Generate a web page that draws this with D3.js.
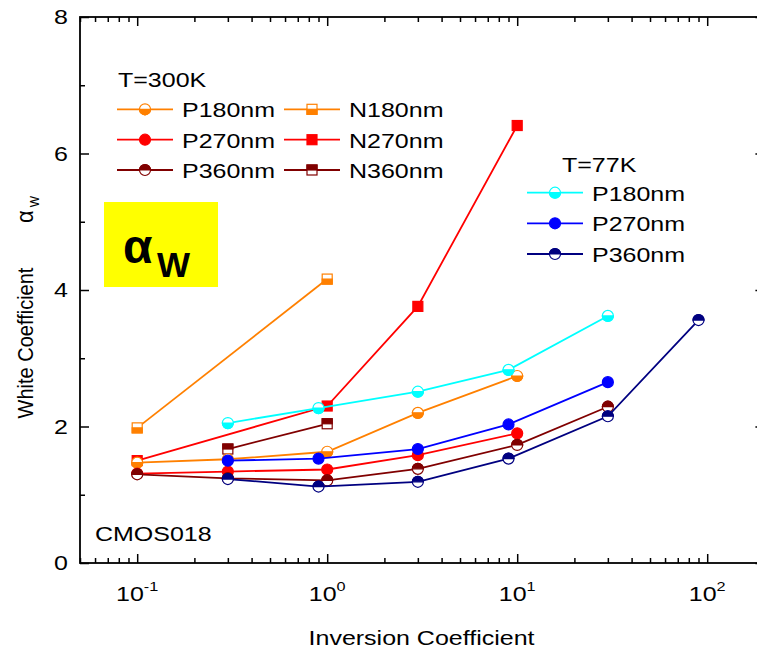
<!DOCTYPE html>
<html>
<head>
<meta charset="utf-8">
<title>White Coefficient vs Inversion Coefficient</title>
<script src="https://cdnjs.cloudflare.com/ajax/libs/d3/7.8.5/d3.min.js"></script>
<style>
  body { margin: 0; background: #fff; }
  svg text { font-family: "Liberation Sans", Arial, sans-serif; fill: #000; }
</style>
</head>
<body>
<svg id="chart" width="757" height="648"></svg>
<script>
// ---- data ----
var ic300P180 = [0.1, 0.3, 1, 3, 10];
var aw300P180 = [1.47, 1.52, 1.63, 2.20, 2.74];
var ic300N180 = [0.1, 1];
var aw300N180 = [1.98, 4.16];
var ic300P270 = [0.1, 0.3, 1, 3, 10];
var aw300P270 = [1.31, 1.34, 1.37, 1.58, 1.90];
var ic300N270 = [0.1, 1, 3, 10];
var aw300N270 = [1.50, 2.30, 3.76, 6.41];
var ic300P360 = [0.1, 0.3, 1, 3, 10, 30];
var aw300P360 = [1.30, 1.24, 1.21, 1.38, 1.73, 2.29];
var ic300N360 = [0.3, 1];
var aw300N360 = [1.67, 2.04];
var ic77P180 = [0.3, 0.9, 3, 9, 30];
var aw77P180 = [2.05, 2.27, 2.51, 2.83, 3.62];
var ic77P270 = [0.3, 0.9, 3, 9, 30];
var aw77P270 = [1.50, 1.53, 1.67, 2.03, 2.65];
var ic77P360 = [0.3, 0.9, 3, 9, 30, 90];
var aw77P360 = [1.23, 1.12, 1.19, 1.53, 2.15, 3.56];

var yTicks = [0, 2, 4, 6, 8];
var yMinor = [1, 3, 5, 7];
var xTickExp = [-1, 0, 1, 2];

// series styling (shape, which half is filled, colour)
var series = [
  {name: "N180nm", ic: ic300N180, aw: aw300N180, color: "#ff8000", shape: "square", fill: "bottom"},
  {name: "N270nm", ic: ic300N270, aw: aw300N270, color: "#ff0000", shape: "square", fill: "full"},
  {name: "N360nm", ic: ic300N360, aw: aw300N360, color: "#800000", shape: "square", fill: "top"},
  {name: "P180nm", ic: ic300P180, aw: aw300P180, color: "#ff8000", shape: "circle", fill: "bottom"},
  {name: "P270nm", ic: ic300P270, aw: aw300P270, color: "#ff0000", shape: "circle", fill: "full"},
  {name: "P360nm", ic: ic300P360, aw: aw300P360, color: "#800000", shape: "circle", fill: "top"},
  {name: "P180nm", ic: ic77P180, aw: aw77P180, color: "#00ffff", shape: "circle", fill: "bottom"},
  {name: "P270nm", ic: ic77P270, aw: aw77P270, color: "#0000ff", shape: "circle", fill: "full"},
  {name: "P360nm", ic: ic77P360, aw: aw77P360, color: "#000080", shape: "circle", fill: "top"}
];

var SX = 1.25; // text in the original is stretched sideways
var svg = d3.select("#chart");
svg.append("rect").attr("width", 757).attr("height", 648).attr("fill", "#fff");

var x = d3.scaleLog().domain([0.05, 200]).range([80, 764.4]);
var y = d3.scaleLinear().domain([0, 8]).range([563, 17]);

// minor log ticks
var minorX = [];
[0.01, 0.1, 1, 10, 100].forEach(function (d) {
  for (var k = 2; k <= 9; k++) {
    var v = d * k;
    if (v >= 0.05 && v <= 200) minorX.push(v);
  }
});
var majorX = xTickExp.map(function (e) { return Math.pow(10, e); });

function tickGroup(axis, tr) {
  var g = svg.append("g").attr("transform", tr).call(axis);
  g.select(".domain").remove();
  g.selectAll("line").attr("stroke", "#000").attr("stroke-width", 1.5);
  return g;
}
tickGroup(d3.axisBottom(x).tickValues(majorX).tickSize(-9).tickSizeOuter(0).tickFormat(""), "translate(0,563)");
tickGroup(d3.axisBottom(x).tickValues(minorX).tickSize(-5).tickSizeOuter(0).tickFormat(""), "translate(0,563)");
tickGroup(d3.axisTop(x).tickValues(majorX).tickSize(-9).tickSizeOuter(0).tickFormat(""), "translate(0,17)");
tickGroup(d3.axisTop(x).tickValues(minorX).tickSize(-5).tickSizeOuter(0).tickFormat(""), "translate(0,17)");
tickGroup(d3.axisLeft(y).tickValues(yTicks).tickSize(-9).tickSizeOuter(0).tickFormat(""), "translate(80,0)");
tickGroup(d3.axisLeft(y).tickValues(yMinor).tickSize(-5).tickSizeOuter(0).tickFormat(""), "translate(80,0)");
tickGroup(d3.axisRight(y).tickValues(yTicks).tickSize(-9).tickSizeOuter(0).tickFormat(""), "translate(764.4,0)");
tickGroup(d3.axisRight(y).tickValues(yMinor).tickSize(-5).tickSizeOuter(0).tickFormat(""), "translate(764.4,0)");

svg.append("rect")
  .attr("x", 80).attr("y", 17).attr("width", 684.4).attr("height", 546)
  .attr("fill", "none").attr("stroke", "#000").attr("stroke-width", 1.8);

function label(x0, y0, str, size, anchor) {
  return svg.append("text")
    .attr("transform", "translate(" + x0 + "," + y0 + ") scale(" + SX + ",1)")
    .attr("font-size", size)
    .attr("text-anchor", anchor || "start")
    .text(str);
}

// tick labels
yTicks.forEach(function (v) { label(68, y(v) + 7, v, 20, "end"); });
xTickExp.forEach(function (e) {
  var t = label(x(Math.pow(10, e)), 601, "", 20, "middle");
  t.append("tspan").text("10");
  t.append("tspan").attr("font-size", 13).attr("dy", -10).text(e);
});

label(421.5, 645, "Inversion Coefficient", 20, "middle");
label(95, 540.5, "CMOS018", 20);

svg.append("text")
  .attr("transform", "translate(32.5,343) scale(1.1,1) rotate(-90)")
  .attr("font-size", 20).attr("text-anchor", "middle")
  .text("White Coefficient");
var aw = svg.append("text")
  .attr("transform", "translate(33,223) scale(1.1,1) rotate(-90)")
  .attr("font-size", 22);
aw.append("tspan").text("\u03b1");
aw.append("tspan").attr("font-size", 12).attr("dx", 3).attr("dy", 5).text("W");

// yellow box
svg.append("rect").attr("x", 104).attr("y", 202).attr("width", 114).attr("height", 85).attr("fill", "#ffff00");
svg.append("text").attr("x", 123).attr("y", 263).attr("font-size", 48).attr("font-weight", "bold").text("\u03b1");
svg.append("text").attr("x", 157).attr("y", 277).attr("font-size", 35).attr("font-weight", "bold").text("W");

// markers
function marker(g, cx, cy, s) {
  var r = 5.5;
  var m = g.append("g").attr("transform", "translate(" + cx + "," + cy + ")");
  if (s.shape === "circle") {
    m.append("circle").attr("r", r)
      .attr("fill", s.fill === "full" ? s.color : "#fff")
      .attr("stroke", s.color).attr("stroke-width", 1.2);
    if (s.fill !== "full") {
      m.append("path")
        .attr("d", "M" + (-r) + ",0A" + r + "," + r + " 0 0 " + (s.fill === "top" ? 1 : 0) + " " + r + ",0Z")
        .attr("fill", s.color).attr("stroke", s.color).attr("stroke-width", 1.2);
    }
  } else {
    var h = 5;
    m.append("rect").attr("x", -h).attr("y", -h).attr("width", 2 * h).attr("height", 2 * h)
      .attr("fill", s.fill === "full" ? s.color : "#fff")
      .attr("stroke", s.color).attr("stroke-width", 1.2);
    if (s.fill !== "full") {
      m.append("rect").attr("x", -h).attr("y", s.fill === "top" ? -h : 0)
        .attr("width", 2 * h).attr("height", h)
        .attr("fill", s.color).attr("stroke", s.color).attr("stroke-width", 1.2);
    }
  }
}

var line = d3.line().x(function (d) { return x(d[0]); }).y(function (d) { return y(d[1]); });
var plot = svg.append("g");
series.forEach(function (s) {
  var pts = d3.zip(s.ic, s.aw);
  plot.append("path").attr("d", line(pts))
    .attr("fill", "none").attr("stroke", s.color).attr("stroke-width", 1.8);
  pts.forEach(function (p) { marker(plot, x(p[0]), y(p[1]), s); });
});

// legends
function legendItem(s, lx, ly) {
  svg.append("line").attr("x1", lx).attr("x2", lx + 56).attr("y1", ly).attr("y2", ly)
    .attr("stroke", s.color).attr("stroke-width", 1.8);
  marker(svg, lx + 28, ly, s);
  label(lx + 65, ly + 8, s.name, 20);
}
label(118, 87.3, "T=300K", 20);
var rows300 = [109.3, 139.7, 170];
[3, 4, 5].forEach(function (i, k) { legendItem(series[i], 117, rows300[k]); });
[0, 1, 2].forEach(function (i, k) { legendItem(series[i], 284, rows300[k]); });

label(562, 171.7, "T=77K", 20);
var rows77 = [192.7, 223.3, 254];
[6, 7, 8].forEach(function (i, k) { legendItem(series[i], 527, rows77[k]); });
</script>
</body>
</html>
